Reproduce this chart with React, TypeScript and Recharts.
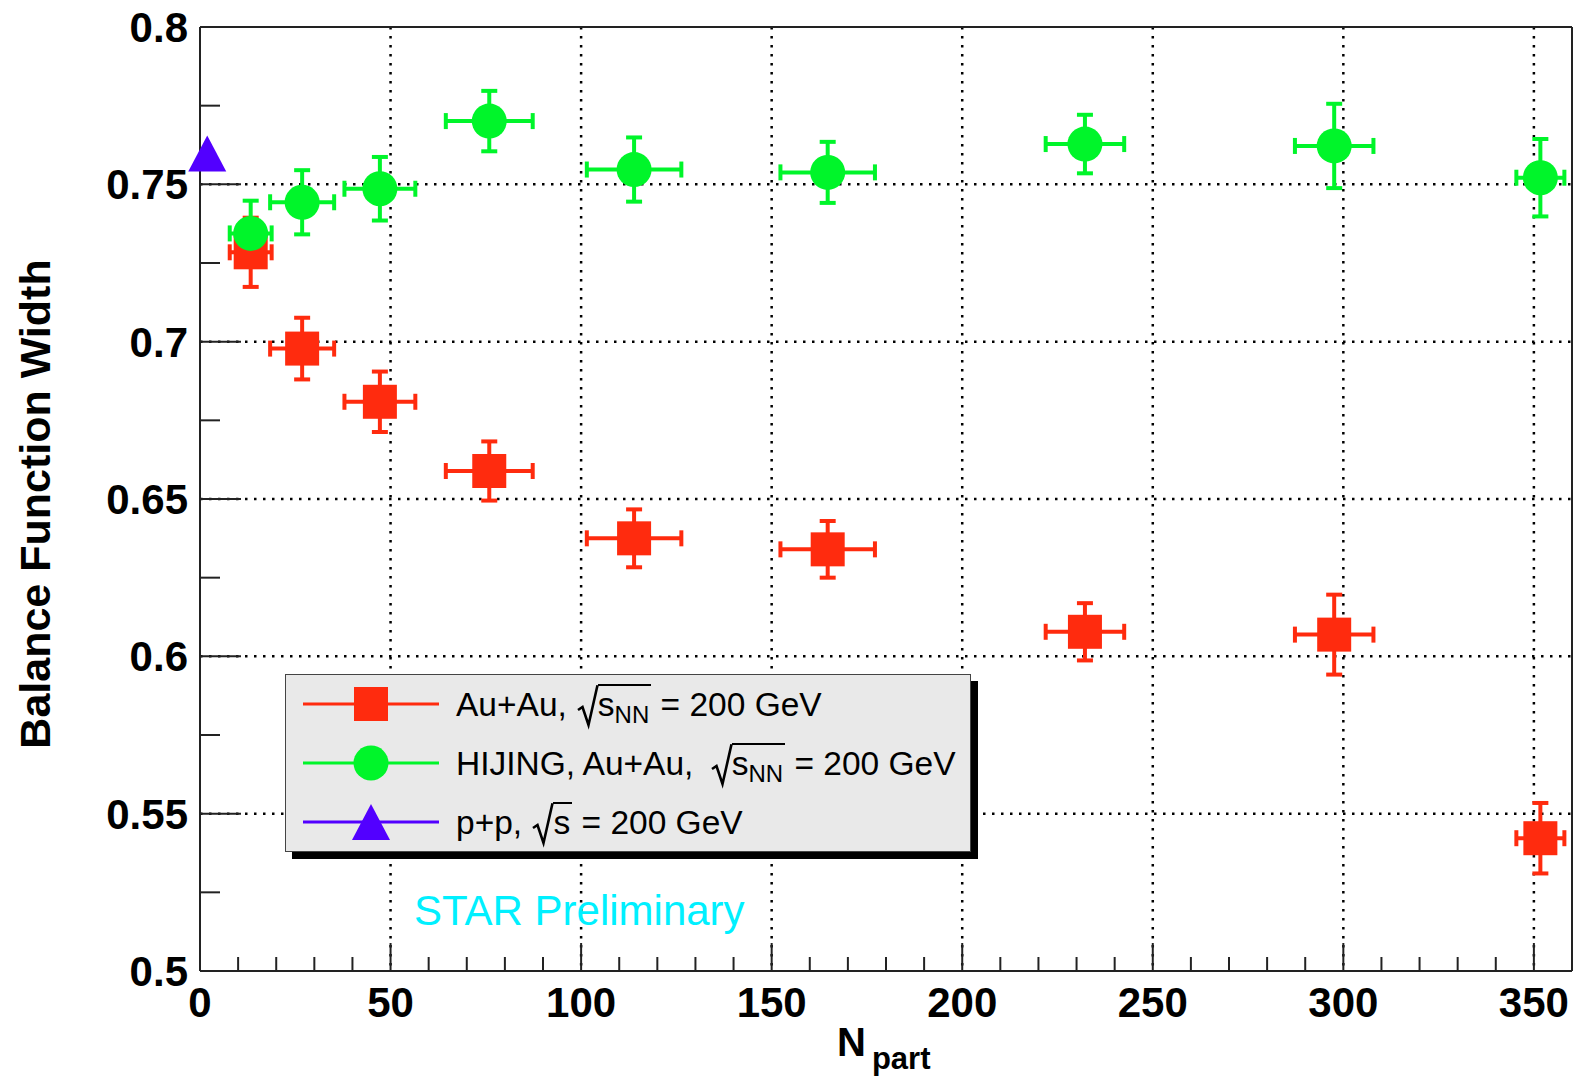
import React from "react";
import { CartesianGrid, ErrorBar, ReferenceLine, Scatter, ScatterChart, XAxis, YAxis } from "recharts";

document.body.style.margin = "0";

const RED = "#ff2b0e";
const GREEN = "#00f52a";
const PURPLE = "#5200ff";
const AXIS = "#222";
const FONT = "'Liberation Sans', Arial, Helvetica, sans-serif";

// N_part (shared by data and HIJING)
const npart = [13.3, 26.8, 47.2, 75.9, 113.9, 164.7, 232.2, 297.6, 351.7];
const npartErr = [5.5, 8.4, 9.3, 11.4, 12.4, 12.4, 10.3, 10.3, 6.3];

const auauWidth = [0.7284, 0.6978, 0.6809, 0.6589, 0.6375, 0.634, 0.6078, 0.6069, 0.5422];
const auauErr = [0.011, 0.0098, 0.0096, 0.0094, 0.0092, 0.009, 0.0091, 0.0127, 0.0112];

const hijingWidth = [0.7344, 0.7443, 0.7486, 0.7701, 0.7547, 0.7538, 0.7628, 0.7622, 0.7521];
const hijingErr = [0.0104, 0.0102, 0.0101, 0.0096, 0.0102, 0.0097, 0.0093, 0.0134, 0.0123];

const ppNpart = [1.9];
const ppWidth = [0.7598];

const xTicks = [0, 10, 20, 30, 40, 50, 60, 70, 80, 90, 100, 110, 120, 130, 140, 150, 160, 170, 180, 190, 200, 210, 220, 230, 240, 250, 260, 270, 280, 290, 300, 310, 320, 330, 340, 350, 360];
const yTicks = [0.5, 0.525, 0.55, 0.575, 0.6, 0.625, 0.65, 0.675, 0.7, 0.725, 0.75, 0.775, 0.8];
const gridX = [50, 100, 150, 200, 250, 300, 350];
const gridY = [0.55, 0.6, 0.65, 0.7, 0.75];

const auauData = npart.map((x, i) => ({ x, y: auauWidth[i], ex: npartErr[i], ey: auauErr[i] }));
const hijingData = npart.map((x, i) => ({ x, y: hijingWidth[i], ex: npartErr[i], ey: hijingErr[i] }));
const ppData = ppNpart.map((x, i) => ({ x, y: ppWidth[i] }));

const SQ = 34;
const CIRC_R = 17.5;

function SquareShape(props: any) {
  const { cx, cy } = props;
  return <rect x={cx - SQ / 2} y={cy - SQ / 2} width={SQ} height={SQ} fill={RED} />;
}
function CircleShape(props: any) {
  const { cx, cy } = props;
  return <circle cx={cx} cy={cy} r={CIRC_R} fill={GREEN} />;
}
function TriangleShape(props: any) {
  const { cx, cy } = props;
  const w = 38;
  const h = 36;
  return <polygon points={`${cx},${cy - h / 2} ${cx + w / 2},${cy + h / 2} ${cx - w / 2},${cy + h / 2}`} fill={PURPLE} />;
}

function YTick(props: any) {
  const { x, y, payload } = props;
  const v = payload.value;
  const major = Math.round(v * 40) % 2 === 0;
  const ax = x + 12;
  return (
    <g>
      <line x1={ax} x2={ax + (major ? 41 : 20)} y1={y} y2={y} stroke={AXIS} strokeWidth={2} />
      {major && (
        <text x={x} y={y + 15} textAnchor="end" fontFamily={FONT} fontWeight="bold" fontSize={42} fill="#000">
          {String(v)}
        </text>
      )}
    </g>
  );
}

function XTick(props: any) {
  const { x, y, payload } = props;
  const v = payload.value;
  const major = v % 50 === 0;
  return (
    <g>
      <line x1={x} x2={x} y1={y} y2={y - (major ? 28 : 14)} stroke={AXIS} strokeWidth={2} />
      {major && v <= 350 && (
        <text x={x} y={y + 46} textAnchor="middle" fontFamily={FONT} fontWeight="bold" fontSize={42} fill="#000">
          {String(v)}
        </text>
      )}
    </g>
  );
}

function Sqrt({ children, gap = 3 }: { children: React.ReactNode; gap?: number }) {
  return (
    <span style={{ position: "relative", display: "inline-block", paddingLeft: 21, marginLeft: gap }}>
      <svg style={{ position: "absolute", left: 0, top: 0, overflow: "visible" }} width={21} height={44}>
        <path d="M1 26 L5.5 23 L11.5 41 L20.5 1.25" stroke="#000" strokeWidth={2.6} fill="none" />
      </svg>
      <span style={{ display: "inline-block", borderTop: "2.6px solid #000", lineHeight: "38px", paddingRight: 2 }}>
        {children}
      </span>
    </span>
  );
}

const sub: React.CSSProperties = { fontSize: 24, verticalAlign: "-7px", lineHeight: 0 };

const legendRows = [
  {
    color: RED,
    marker: <rect x={-SQ / 2} y={-SQ / 2} width={SQ} height={SQ} fill={RED} />,
    label: (
      <>
        Au+Au,<Sqrt gap={10}>s<span style={sub}>NN</span></Sqrt> = 200 GeV
      </>
    ),
  },
  {
    color: GREEN,
    marker: <circle r={CIRC_R} fill={GREEN} />,
    label: (
      <>
        HIJING, Au+Au, <Sqrt gap={8}>s<span style={sub}>NN</span></Sqrt> = 200 GeV
      </>
    ),
  },
  {
    color: PURPLE,
    marker: <polygon points="0,-18 19,18 -19,18" fill={PURPLE} />,
    label: (
      <>
        p+p, <Sqrt gap={1}>s</Sqrt> = 200 GeV
      </>
    ),
  },
];
const legendRowCenters = [29, 88, 147];

function LegendBox() {
  return (
    <div
      style={{
        position: "absolute",
        left: 285,
        top: 674,
        width: 686,
        height: 178,
        boxSizing: "border-box",
        background: "#e9e9e9",
        border: "1.5px solid #444",
        boxShadow: "7px 7px 0 #000",
        fontFamily: FONT,
        fontSize: 33.5,
        color: "#000",
      }}
    >
      {legendRows.map((row, i) => (
        <React.Fragment key={i}>
          <svg style={{ position: "absolute", left: 17, top: legendRowCenters[i] - 22 }} width={140} height={44}>
            <line x1={0} x2={136} y1={22} y2={22} stroke={row.color} strokeWidth={3} />
            <g transform="translate(68,22)">{row.marker}</g>
          </svg>
          <div style={{ position: "absolute", left: 170, top: legendRowCenters[i] - 20, lineHeight: "38px", whiteSpace: "nowrap" }}>
            {row.label}
          </div>
        </React.Fragment>
      ))}
    </div>
  );
}

export default function App() {
  return (
    <div style={{ position: "relative", width: 1573, height: 1077, background: "#fff", overflow: "hidden" }}>
      <ScatterChart width={1573} height={1077} margin={{ top: 27, right: 1, left: 100, bottom: 46 }}>
        <CartesianGrid
          horizontalValues={gridY}
          verticalValues={gridX}
          stroke="#000"
          strokeWidth={2.5}
          strokeDasharray="2.5 6.5"
        />
        <XAxis
          type="number"
          dataKey="x"
          domain={[0, 360]}
          ticks={xTicks}
          interval={0}
          height={60}
          tickSize={0}
          tickMargin={0}
          tickLine={false}
          axisLine={{ stroke: AXIS, strokeWidth: 2 }}
          tick={(p: any) => <XTick {...p} />}
        />
        <YAxis
          type="number"
          dataKey="y"
          domain={[0.5, 0.8]}
          ticks={yTicks}
          interval={0}
          width={100}
          tickSize={0}
          tickMargin={12}
          tickLine={false}
          axisLine={{ stroke: AXIS, strokeWidth: 2 }}
          tick={(p: any) => <YTick {...p} />}
        />
        <ReferenceLine y={0.8} stroke={AXIS} strokeWidth={2} />
        <ReferenceLine x={360} stroke={AXIS} strokeWidth={2} />
        <Scatter data={auauData} shape={(p: any) => <SquareShape {...p} />} isAnimationActive={false}>
          <ErrorBar dataKey="ey" direction="y" width={8} strokeWidth={4} stroke={RED} isAnimationActive={false} />
          <ErrorBar dataKey="ex" direction="x" width={8} strokeWidth={4} stroke={RED} isAnimationActive={false} />
        </Scatter>
        <Scatter data={hijingData} shape={(p: any) => <CircleShape {...p} />} isAnimationActive={false}>
          <ErrorBar dataKey="ey" direction="y" width={8} strokeWidth={4} stroke={GREEN} isAnimationActive={false} />
          <ErrorBar dataKey="ex" direction="x" width={8} strokeWidth={4} stroke={GREEN} isAnimationActive={false} />
        </Scatter>
        <Scatter data={ppData} shape={(p: any) => <TriangleShape {...p} />} isAnimationActive={false} />
      </ScatterChart>

      <LegendBox />

      <div
        style={{
          position: "absolute",
          left: 35,
          top: 504,
          transform: "translate(-50%, -50%) rotate(-90deg)",
          whiteSpace: "nowrap",
          fontFamily: FONT,
          fontWeight: "bold",
          fontSize: 43,
          lineHeight: "43px",
        }}
      >
        Balance Function Width
      </div>

      <div
        style={{
          position: "absolute",
          left: 837,
          top: 1019,
          whiteSpace: "nowrap",
          fontFamily: FONT,
          fontWeight: "bold",
          fontSize: 40,
          lineHeight: "46px",
        }}
      >
        N<span style={{ fontSize: 31, verticalAlign: "-13px", lineHeight: 0, marginLeft: 6 }}>part</span>
      </div>

      <div
        style={{
          position: "absolute",
          left: 414,
          top: 889,
          whiteSpace: "nowrap",
          fontFamily: FONT,
          fontSize: 42,
          lineHeight: "44px",
          color: "#00f0ff",
        }}
      >
        STAR Preliminary
      </div>
    </div>
  );
}
